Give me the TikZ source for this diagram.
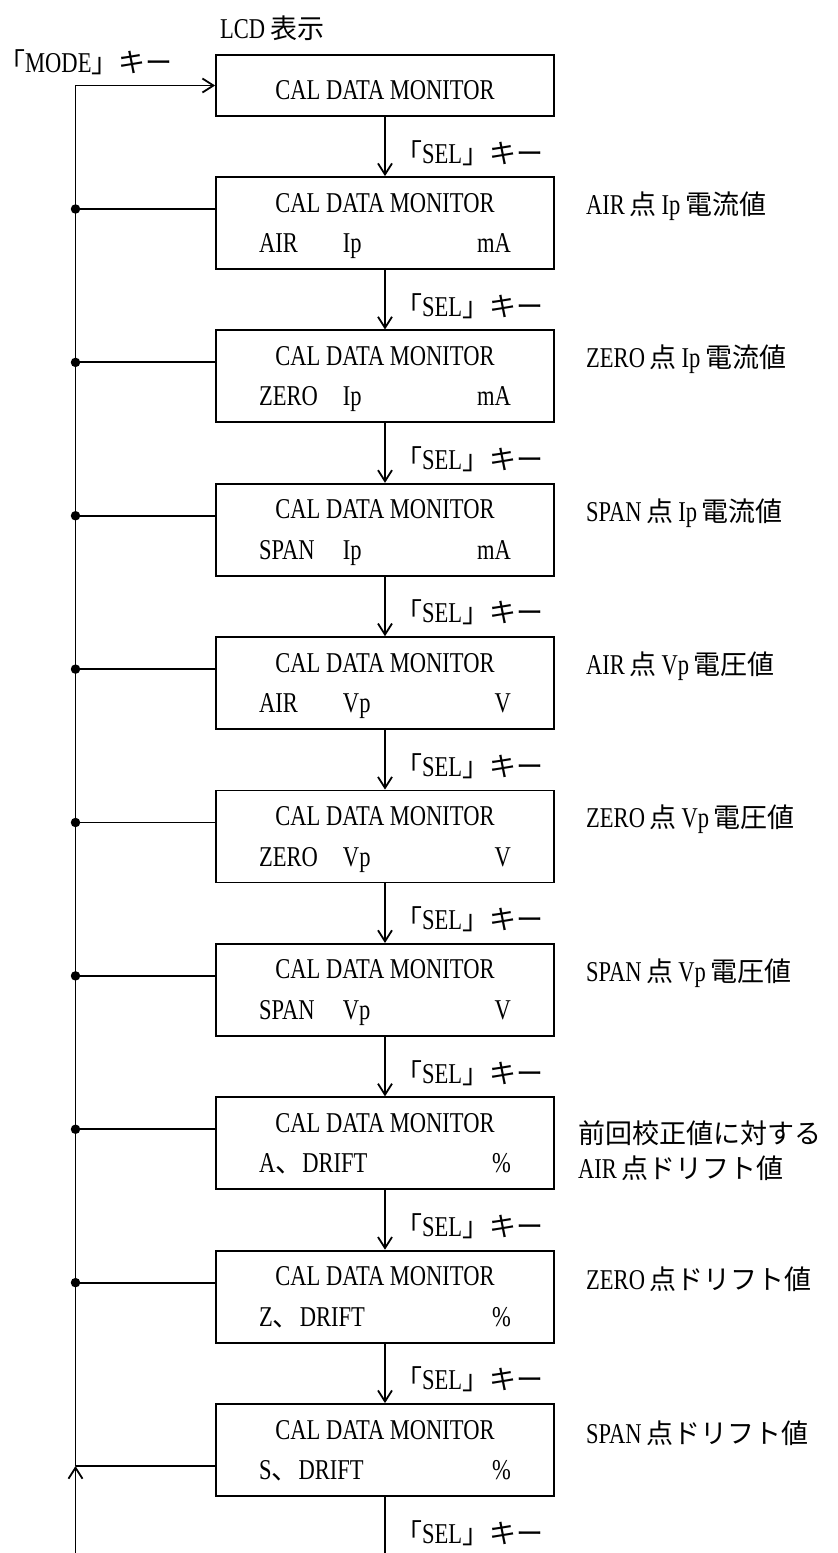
\documentclass[tikz,border=0pt]{standalone}
\usepackage{fontspec}
\setmainfont{Liberation Serif}[FakeStretch=0.785]
\newfontfamily\jpfont{Noto Sans CJK JP}
\usetikzlibrary{arrows.meta,calc}
\newcommand\jp[1]{{\jpfont\fontsize{27}{35}\selectfont #1}}
\newcommand\col[1]{\makebox[84pt][l]{#1}}
\newcommand\lcdrow[2]{\makebox[252pt][l]{#1\hfill #2}}
\tikzset{
  lcdbox/.style={draw,line width=1.8pt,rectangle,minimum width=338pt,minimum height=92pt,inner sep=0pt},
  txt/.style={inner sep=0pt,font=\fontsize{28.7}{35}\selectfont},
  wire/.style={line width=1.8pt},
  vbarb/.style={-{Straight Barb[length=11pt,width=14pt]}},
  jdot/.style={circle,fill,inner sep=0pt,minimum size=9.5pt}
}
\begin{document}
\begin{tikzpicture}[x=1pt,y=-1pt]
    \useasboundingbox (0,0) rectangle (838,1553);
    \node[txt,anchor=west] (lcd) at (220,28) {LCD\,\jp{表示}};
    \node[txt,anchor=west] (mode) at (-2,62) {\jp{「}MODE\jp{」キー}};
    \node[lcdbox,minimum height=61pt] (b1) at (385,85.5) {};
    \node[txt,anchor=base] (r1) at (385,99.5) {CAL DATA MONITOR};
    \foreach \i/\rowtwo/\note/\dx/\dy in {
      2/{\lcdrow{\col{AIR}Ip}{mA}}/{AIR\,\jp{点}\,Ip\,\jp{電流値}}/586/29,
      3/{\lcdrow{\col{ZERO}Ip}{mA}}/{ZERO\,\jp{点}\,Ip\,\jp{電流値}}/586/29,
      4/{\lcdrow{\col{SPAN}Ip}{mA}}/{SPAN\,\jp{点}\,Ip\,\jp{電流値}}/586/29,
      5/{\lcdrow{\col{AIR}Vp}{V}}/{AIR\,\jp{点}\,Vp\,\jp{電圧値}}/586/29,
      6/{\lcdrow{\col{ZERO}Vp}{V}}/{ZERO\,\jp{点}\,Vp\,\jp{電圧値}}/586/29,
      7/{\lcdrow{\col{SPAN}Vp}{V}}/{SPAN\,\jp{点}\,Vp\,\jp{電圧値}}/586/29,
      8/{\lcdrow{A\jp{、}DRIFT}{\%}}/{\jp{前回校正値に対する}\\AIR\,\jp{点ドリフト値}}/578/53,
      9/{\lcdrow{Z\jp{、}DRIFT}{\%}}/{ZERO\,\jp{点ドリフト値}}/586/29,
      10/{\lcdrow{S\jp{、}DRIFT}{\%}}/{SPAN\,\jp{点ドリフト値}}/586/29}{
      \pgfmathsetmacro\boxtop{177+(\i-2)*153.375}
      \node[lcdbox] (b\i) at (385,\boxtop+46) {};
      \node[txt,anchor=base] (r\i) at (385,\boxtop+35) {CAL DATA MONITOR};
      \node[txt,anchor=base] (s\i) at (385,\boxtop+75.5) {\rowtwo};
      \node[txt,anchor=west,align=left] (n\i) at (\dx,\boxtop+\dy) {\note};
      \ifnum\i<10 \coordinate (j\i) at (75.5,\boxtop+32);
      \else \coordinate (j\i) at (75.5,\boxtop+62); \fi
    }
    \foreach \i in {1,...,10}
      \node[txt,anchor=west] (k\i) at ($(b\i.south)+(10,36)$) {\jp{「}SEL\jp{」キー}};
    \foreach \i [evaluate=\i as \j using int(\i+1)] in {1,...,9}
      \draw[wire,vbarb] (b\i.south) -- (b\j.north);
    \foreach \i in {2,...,9}{
      \draw[wire] (b\i.west |- j\i) -- (j\i);
      \node[jdot] at (j\i) {};
    }
    \coordinate (spine) at (75.5,1553);
    \coordinate (corner) at (75.5,85.5);
    \coordinate (exit) at (385,1553);
    \draw[wire] (b10.west |- j10) -- (j10);
    \draw[wire,vbarb] (spine) -- (j10);
    \draw[wire,vbarb] (j10) -- (corner) -- (b1.west);
    \draw[wire] (b10.south) -- (exit);
\end{tikzpicture}
\end{document}
